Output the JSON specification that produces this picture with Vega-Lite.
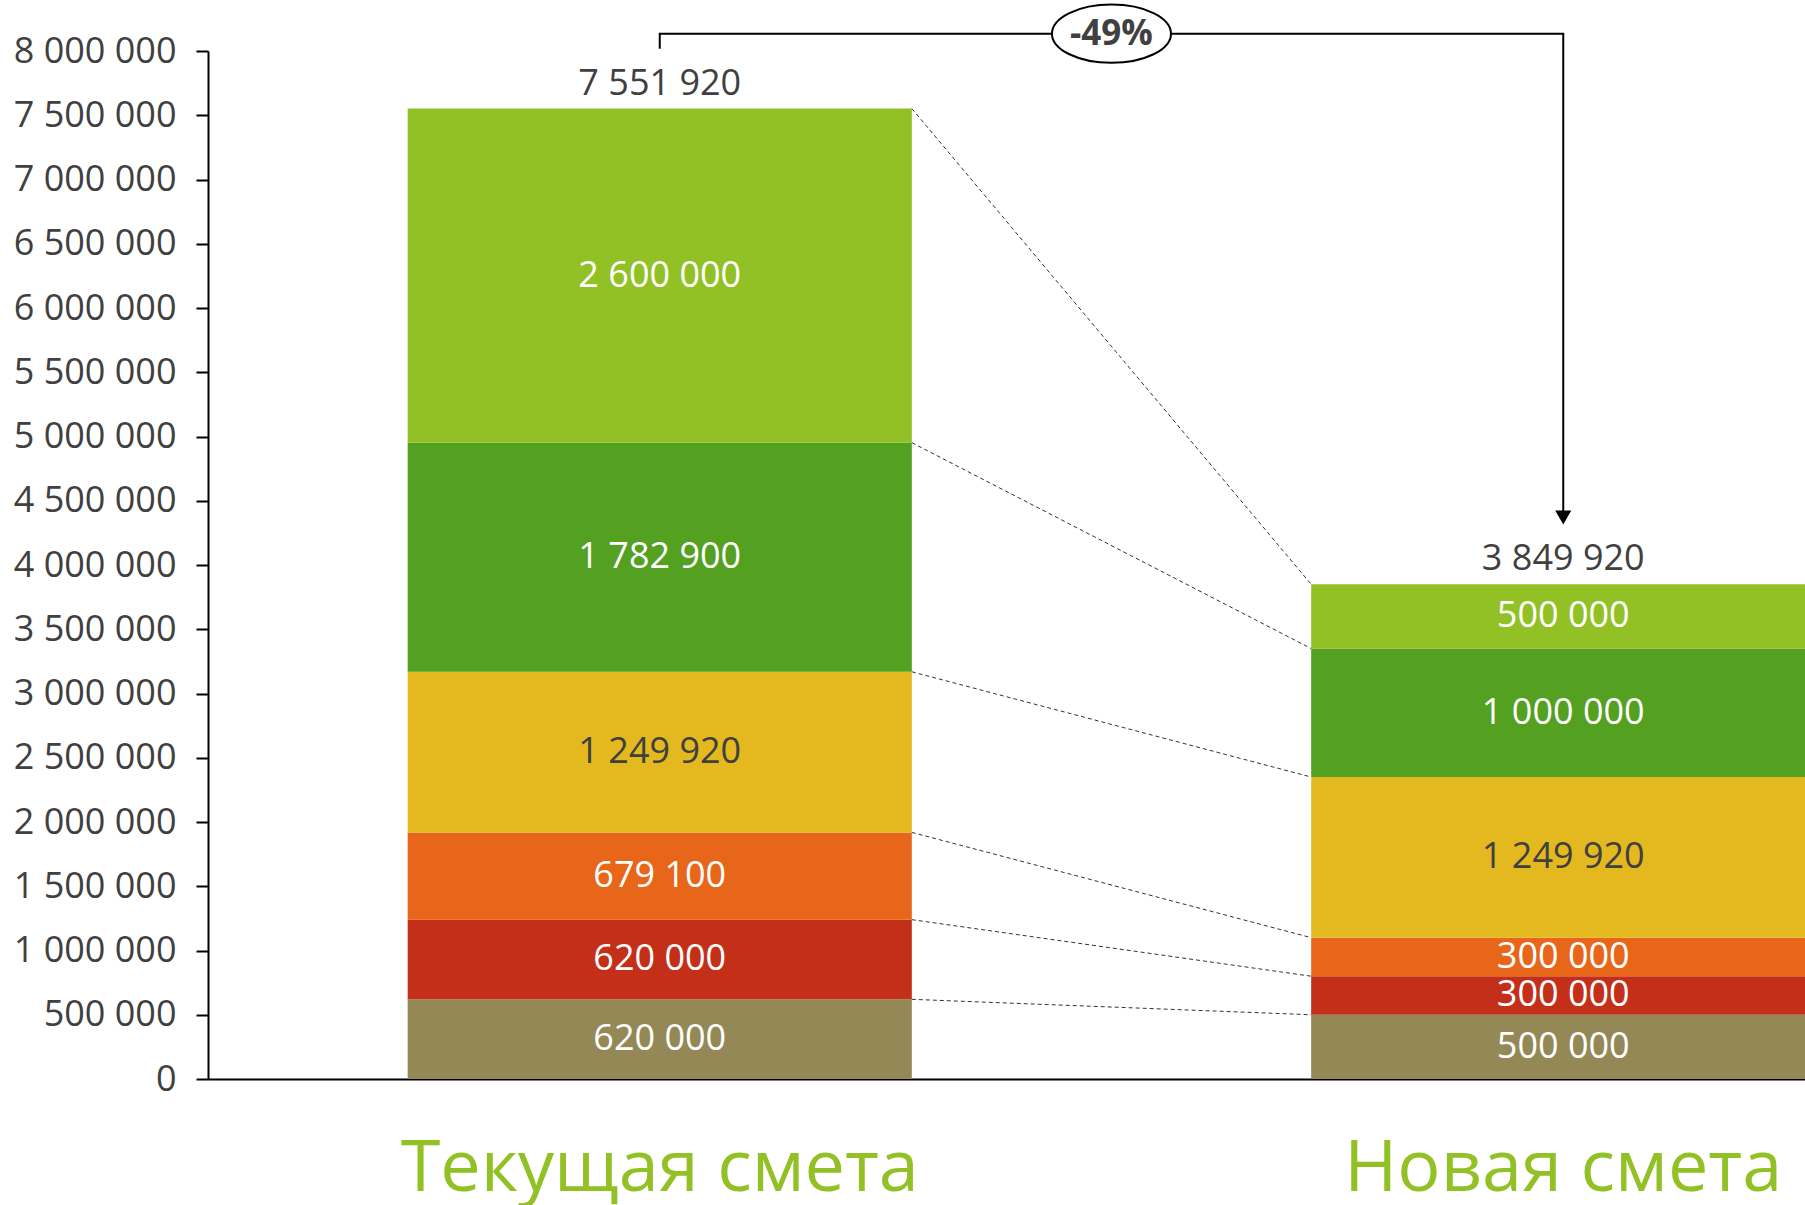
{
  "$schema": "https://vega.github.io/schema/vega-lite/v6.json",
  "width": 1597,
  "height": 1028,
  "autosize": {"type": "none"},
  "padding": {"left": 208, "top": 51, "right": 0, "bottom": 126},
  "config": {
    "view": {"stroke": null},
    "font": "Open Sans",
    "locale": {"number": {"decimal": ",", "thousands": " ", "grouping": [3], "currency": ["", ""]}}
  },
  "datasets": {
    "seg": [
      {"g": "Текущая смета", "k": 1, "v": 620000},
      {"g": "Текущая смета", "k": 2, "v": 620000},
      {"g": "Текущая смета", "k": 3, "v": 679100},
      {"g": "Текущая смета", "k": 4, "v": 1249920},
      {"g": "Текущая смета", "k": 5, "v": 1782900},
      {"g": "Текущая смета", "k": 6, "v": 2600000},
      {"g": "Новая смета", "k": 1, "v": 500000},
      {"g": "Новая смета", "k": 2, "v": 300000},
      {"g": "Новая смета", "k": 3, "v": 300000},
      {"g": "Новая смета", "k": 4, "v": 1249920},
      {"g": "Новая смета", "k": 5, "v": 1000000},
      {"g": "Новая смета", "k": 6, "v": 500000}
    ],
    "links": [
      {"from": "Текущая смета", "to": "Новая смета", "a": 620000, "b": 500000},
      {"from": "Текущая смета", "to": "Новая смета", "a": 1240000, "b": 800000},
      {"from": "Текущая смета", "to": "Новая смета", "a": 1919100, "b": 1100000},
      {"from": "Текущая смета", "to": "Новая смета", "a": 3169020, "b": 2349920},
      {"from": "Текущая смета", "to": "Новая смета", "a": 4951920, "b": 3349920},
      {"from": "Текущая смета", "to": "Новая смета", "a": 7551920, "b": 3849920}
    ],
    "totals": [
      {"g": "Текущая смета", "total": 7551920},
      {"g": "Новая смета", "total": 3849920}
    ],
    "bracket": [
      {"g": "Текущая смета", "v": 8018000, "i": 1},
      {"g": "Текущая смета", "v": 8135000, "i": 2},
      {"g": "Новая смета", "v": 8135000, "i": 3},
      {"g": "Новая смета", "v": 4420000, "i": 4}
    ],
    "arrow": [{"g": "Новая смета", "v": 4370000}],
    "badge": [{"g": "Текущая смета", "v": 8135000, "t": "-49%"}]
  },
  "layer": [
    {
      "data": {"name": "seg"},
      "mark": {"type": "bar"},
      "encoding": {
        "x": {
          "field": "g", "type": "nominal", "sort": null,
          "scale": {"type": "band", "domain": ["Текущая смета", "Новая смета"], "range": [0, 1807], "paddingInner": 0.442, "paddingOuter": 0.221},
          "axis": {"title": null, "ticks": false, "domain": true, "domainColor": "#000000", "domainWidth": 2, "labelFontSize": 72, "labelColor": "#92C125", "labelPadding": 54, "labelAngle": 0, "labelLimit": 0, "labelOverlap": false, "labelFont": "Open Sans"}
        },
        "y": {
          "field": "v", "type": "quantitative", "stack": "zero",
          "scale": {"domain": [0, 8000000], "nice": false},
          "axis": {"title": null, "grid": false, "tickCount": 16, "format": ",d", "domainColor": "#000000", "domainWidth": 2, "tickColor": "#000000", "tickWidth": 2, "tickSize": 12, "labelFontSize": 36, "labelColor": "#404040", "labelPadding": 20}
        },
        "color": {
          "field": "k", "type": "nominal",
          "scale": {"domain": [1, 2, 3, 4, 5, 6], "range": ["#938856", "#C42F1A", "#E7661A", "#E4B91F", "#54A021", "#92C125"]},
          "legend": null
        },
        "order": {"field": "k", "type": "quantitative", "sort": "ascending"}
      }
    },
    {
      "data": {"name": "links"},
      "mark": {"type": "rule", "strokeDash": [4, 3], "strokeWidth": 1, "color": "#333333"},
      "encoding": {
        "x": {"field": "from", "type": "nominal", "bandPosition": 1},
        "x2": {"field": "to", "bandPosition": 0},
        "y": {"field": "a", "type": "quantitative"},
        "y2": {"field": "b"}
      }
    },
    {
      "data": {"name": "seg"},
      "mark": {"type": "text", "fontSize": 36, "baseline": "middle", "align": "center"},
      "encoding": {
        "x": {"field": "g", "type": "nominal"},
        "y": {"field": "v", "type": "quantitative", "stack": "zero", "bandPosition": 0.5},
        "order": {"field": "k", "type": "quantitative", "sort": "ascending"},
        "text": {"field": "v", "type": "quantitative", "format": ",d"},
        "color": {"condition": {"test": "datum.k === 4", "value": "#404040"}, "value": "#FFFFFF"}
      }
    },
    {
      "data": {"name": "totals"},
      "mark": {"type": "text", "fontSize": 36, "baseline": "alphabetic", "align": "center", "dy": -14, "color": "#404040"},
      "encoding": {
        "x": {"field": "g", "type": "nominal"},
        "y": {"field": "total", "type": "quantitative"},
        "text": {"field": "total", "type": "quantitative", "format": ",d"}
      }
    },
    {
      "data": {"name": "bracket"},
      "mark": {"type": "line", "color": "#000000", "strokeWidth": 2, "interpolate": "linear"},
      "encoding": {
        "x": {"field": "g", "type": "nominal"},
        "y": {"field": "v", "type": "quantitative"},
        "order": {"field": "i", "type": "quantitative"}
      }
    },
    {
      "data": {"name": "arrow"},
      "mark": {"type": "point", "shape": "triangle-down", "filled": true, "size": 260, "color": "#000000", "opacity": 1},
      "encoding": {
        "x": {"field": "g", "type": "nominal"},
        "y": {"field": "v", "type": "quantitative"}
      }
    },
    {
      "data": {"name": "badge"},
      "mark": {"type": "point", "shape": "M-1,0A1,0.49 0 1,1 1,0A1,0.49 0 1,1 -1,0Z", "filled": false, "fill": "#FFFFFF", "fillOpacity": 1, "stroke": "#000000", "strokeWidth": 2, "strokeOpacity": 1, "size": 14161, "opacity": 1},
      "encoding": {
        "x": {"field": "g", "type": "nominal", "bandPosition": 1.396},
        "y": {"field": "v", "type": "quantitative"}
      }
    },
    {
      "data": {"name": "badge"},
      "mark": {"type": "text", "fontSize": 35, "fontWeight": "bold", "baseline": "middle", "align": "center", "color": "#404040"},
      "encoding": {
        "x": {"field": "g", "type": "nominal", "bandPosition": 1.396},
        "y": {"field": "v", "type": "quantitative"},
        "text": {"field": "t"}
      }
    }
  ]
}
